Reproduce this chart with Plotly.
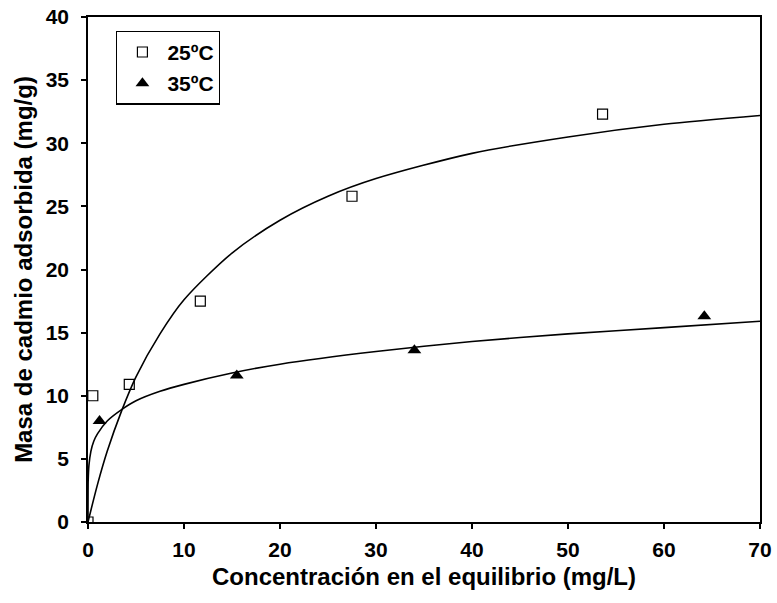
import plotly.graph_objects as go

c25 = [0.0, 0.5, 4.3, 11.7, 27.5, 53.6]
q25 = [0.0, 10.0, 10.9, 17.5, 25.8, 32.3]
c35 = [1.2, 15.5, 34.0, 64.2]
q35 = [8.0, 11.6, 13.6, 16.3]

# Fitted curves
fit25_c = [0, 1, 2, 3.5, 5, 7.5, 10, 15, 20, 25, 30, 40, 50, 60, 70]
fit25_q = [0, 3.0, 5.6, 8.8, 11.5, 14.9, 17.6, 21.3, 23.9, 25.8, 27.2, 29.2, 30.5, 31.5, 32.2]
fit35_c = [0, 0.02, 0.1, 0.3, 0.6, 1, 2, 3.5, 5, 7.5, 10, 15, 20, 30, 40, 50, 60, 70]
fit35_q = [0, 3.3, 4.5, 5.6, 6.4, 7.0, 8.0, 8.9, 9.6, 10.35, 10.9, 11.8, 12.5, 13.5, 14.3, 14.9, 15.4, 15.9]

x_ticks = [0, 10, 20, 30, 40, 50, 60, 70]
y_ticks = [0, 5, 10, 15, 20, 25, 30, 35, 40]

FONT = "Liberation Sans, Arial, sans-serif"

fig = go.Figure()
fig.add_trace(go.Scatter(x=fit25_c, y=fit25_q, mode="lines", line=dict(color="black", width=1.6, shape="spline", smoothing=0.8),
                         showlegend=False, hoverinfo="skip"))
fig.add_trace(go.Scatter(x=fit35_c, y=fit35_q, mode="lines", line=dict(color="black", width=1.6, shape="spline", smoothing=0.6),
                         showlegend=False, hoverinfo="skip"))
fig.add_trace(go.Scatter(x=c25, y=q25, mode="markers", name="25ºC", legendgroup="a",
                         marker=dict(symbol="square-open", size=10, color="black", line=dict(width=1.2))))
fig.add_trace(go.Scatter(x=c35, y=q35, mode="markers", name="35ºC", legendgroup="b",
                         marker=dict(symbol="triangle-up", size=12, color="black")))

axis_common = dict(showline=True, linecolor="black", linewidth=1.5, mirror=True, showgrid=False, zeroline=False,
                   ticks="outside", ticklen=5, tickwidth=1.5, tickcolor="black", automargin=False,
                   tickfont=dict(family=FONT, size=21, color="black", weight="bold"))

fig.update_xaxes(range=[0, 70], tickvals=x_ticks, **axis_common, ticklabelstandoff=3,
                 title=dict(text="<b>Concentración en el equilibrio (mg/L)</b>", font=dict(family=FONT, size=24, color="black"), standoff=8))
fig.update_yaxes(range=[0, 40], tickvals=y_ticks, **axis_common, ticklabelstandoff=8,
                 title=dict(text="<b>Masa de cadmio adsorbida (mg/g)</b>", font=dict(family=FONT, size=24, color="black"), standoff=6))

fig.update_layout(
    width=777, height=603,
    margin=dict(l=88, r=17, t=17, b=81),
    paper_bgcolor="white", plot_bgcolor="white",
    showlegend=True,
    legend=dict(x=0.042, y=0.973, xanchor="left", yanchor="top",
                bordercolor="black", borderwidth=1.2, bgcolor="white",
                font=dict(family=FONT, size=21, color="black", weight="bold"),
                itemwidth=40, traceorder="grouped", tracegroupgap=1),
)

fig.write_html("out.html", post_script="document.body.style.margin='0';",
               config={"displayModeBar": False})
